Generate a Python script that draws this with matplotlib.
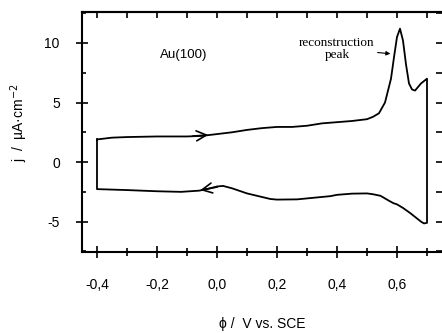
# Voltamograma ciclico de Au(100) con pico de reconstruccion

import matplotlib
matplotlib.use('Agg')
import matplotlib.pyplot as plt
from matplotlib.ticker import MultipleLocator, FuncFormatter, NullFormatter

# barrido anodico (de -0,4 a 0,7 V)
pot_ida = [-0.40, -0.35, -0.30, -0.20, -0.10, -0.05, 0.00, 0.05, 0.10, 0.15,
           0.20, 0.25, 0.30, 0.35, 0.40, 0.45, 0.50, 0.52, 0.54, 0.56,
           0.58, 0.59, 0.60, 0.61, 0.62, 0.63, 0.64, 0.65, 0.66, 0.67,
           0.68, 0.69, 0.70]
j_ida = [1.90, 2.05, 2.10, 2.15, 2.15, 2.20, 2.35, 2.50, 2.70, 2.85,
         2.95, 2.95, 3.05, 3.25, 3.35, 3.45, 3.60, 3.80, 4.10, 5.00,
         7.00, 8.80, 10.50, 11.20, 10.20, 8.20, 6.60, 6.10, 6.00, 6.30,
         6.60, 6.80, 7.00]

# barrido catodico (de 0,7 a -0,4 V)
pot_vuelta = [0.70, 0.69, 0.68, 0.66, 0.645, 0.62, 0.60, 0.588, 0.57, 0.545,
              0.52, 0.50, 0.45, 0.40, 0.378, 0.30, 0.267, 0.20, 0.178, 0.10,
              0.05, 0.02, 0.00, -0.03, -0.06, -0.12, -0.20, -0.30, -0.40]
j_vuelta = [-5.10, -5.15, -5.00, -4.60, -4.30, -3.85, -3.55, -3.45, -3.20, -2.83,
            -2.70, -2.63, -2.65, -2.75, -2.86, -3.05, -3.13, -3.15, -3.10, -2.63,
            -2.20, -2.00, -2.05, -2.25, -2.40, -2.50, -2.45, -2.35, -2.27]

plt.rcParams['font.family'] = ['Liberation Sans', 'DejaVu Sans']

fig = plt.figure(figsize=(4.42, 3.33), dpi=100)
ax = fig.add_axes([0.1855, 0.2432, 0.8145, 0.7208])

pot = pot_ida + pot_vuelta + [pot_ida[0]]
j = j_ida + j_vuelta + [j_ida[0]]
ax.plot(pot, j, color='black', lw=1.3, solid_joinstyle='round')

# flechas de direccion de barrido
ax.annotate('', xy=(-0.02, 2.3), xytext=(-0.09, 2.16),
            arrowprops=dict(arrowstyle='->', color='black', lw=1.2, mutation_scale=18))
ax.annotate('', xy=(-0.065, -2.4), xytext=(0.01, -2.05),
            arrowprops=dict(arrowstyle='->', color='black', lw=1.2, mutation_scale=18))

ax.text(-0.19, 9.0, 'Au(100)', fontsize=9.5, va='center', ha='left')
ax.annotate('reconstruction\npeak', xy=(0.578, 9.1), xytext=(0.40, 9.5),
            fontsize=9.5, family='Liberation Serif', ha='center', va='center',
            linespacing=1.0,
            arrowprops=dict(arrowstyle='-|>', color='black', lw=0.8,
                            mutation_scale=6, shrinkA=28, shrinkB=0))

ax.set_xlim(-0.45, 0.75)
ax.set_ylim(-7.55, 12.6)

ax.xaxis.set_major_locator(MultipleLocator(0.2))
ax.xaxis.set_minor_locator(MultipleLocator(0.1))
ax.yaxis.set_major_locator(MultipleLocator(5))
ax.yaxis.set_minor_locator(MultipleLocator(2.5))
ax.xaxis.set_major_formatter(FuncFormatter(lambda v, p: f'{v:.1f}'.replace('.', ',').replace('-0,0', '0,0')))
ax.yaxis.set_major_formatter(FuncFormatter(lambda v, p: f'{v:.0f}'))

for s in ['left', 'bottom', 'top']:
    ax.spines[s].set_linewidth(1.5)
ax.spines['right'].set_visible(False)

ax.tick_params(which='both', labelsize=10, width=1.2)
ax.tick_params(axis='x', which='major', direction='inout', length=8, pad=15)
ax.tick_params(axis='x', which='minor', direction='inout', length=6)
ax.tick_params(axis='y', which='major', direction='inout', length=8, pad=12)
ax.tick_params(axis='y', which='minor', direction='in', length=3)

# marcas interiores arriba y a la derecha
arriba = ax.secondary_xaxis('top')
arriba.xaxis.set_major_locator(MultipleLocator(0.2))
arriba.xaxis.set_minor_locator(MultipleLocator(0.1))
arriba.xaxis.set_major_formatter(NullFormatter())
arriba.tick_params(which='both', direction='in', length=4, width=1.2)
arriba.spines['top'].set_linewidth(1.5)

derecha = ax.secondary_yaxis('right')
derecha.yaxis.set_major_locator(MultipleLocator(5))
derecha.yaxis.set_minor_locator(MultipleLocator(2.5))
derecha.yaxis.set_major_formatter(NullFormatter())
derecha.tick_params(which='both', direction='in', length=4, width=1.2)
derecha.spines['right'].set_visible(False)

ax.set_xlabel('ϕ /  V vs. SCE', fontsize=10, labelpad=18)
ax.set_ylabel(r'j  /  µA·cm$^{-2}$', fontsize=10, labelpad=14)
ax.yaxis.set_label_coords(-0.145, 0.54)

fig.savefig('out.png', dpi=100)
